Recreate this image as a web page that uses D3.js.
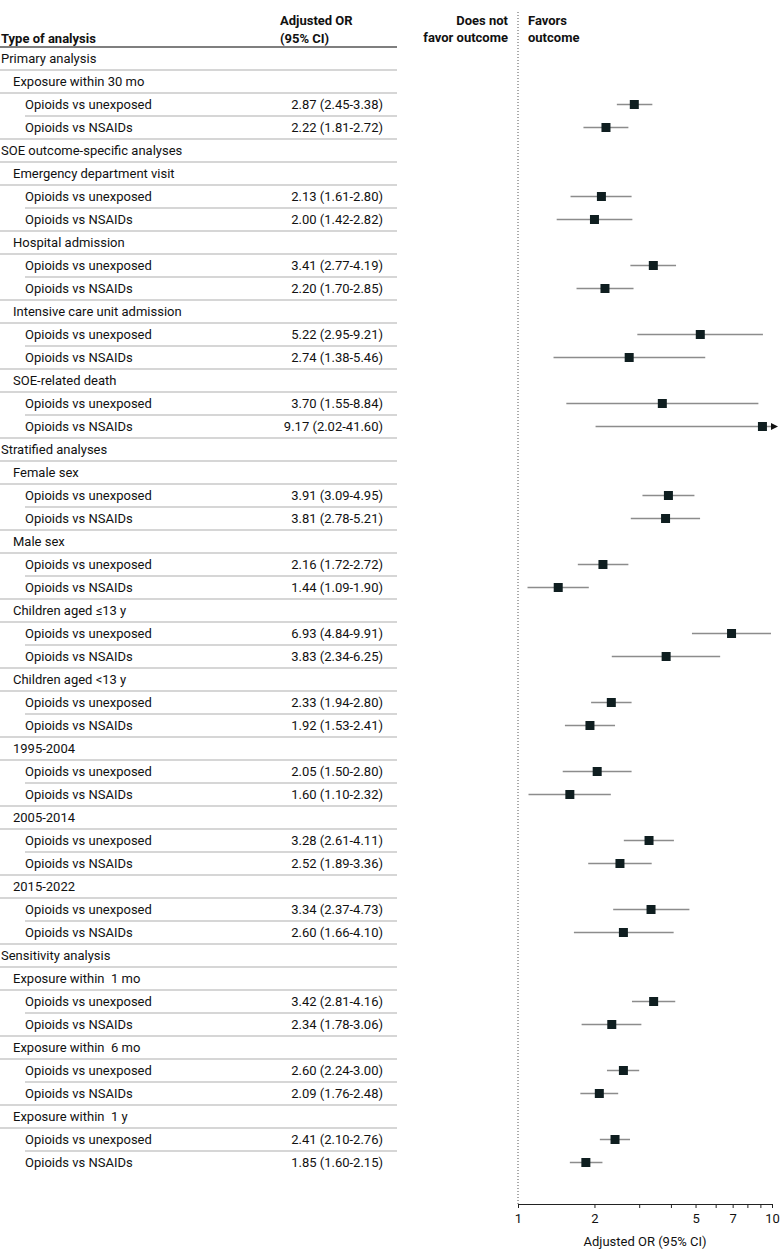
<!DOCTYPE html>
<html>
<head>
<meta charset="utf-8">
<script src="https://cdn.jsdelivr.net/npm/d3@7"></script>
<style>
  body { margin: 0; background: #fff; }
  svg text { font-family: Roboto, "Liberation Sans", sans-serif; fill: #111; }
</style>
</head>
<body>
<div id="chart"></div>
<script>
// Rows of the table, top to bottom. Level 0 = section, 1 = subgroup, 2 = comparison
const rowLabels = [
    'Primary analysis', 'Exposure within 30 mo', 'Opioids vs unexposed', 'Opioids vs NSAIDs',
    'SOE outcome-specific analyses', 'Emergency department visit', 'Opioids vs unexposed', 'Opioids vs NSAIDs',
    'Hospital admission', 'Opioids vs unexposed', 'Opioids vs NSAIDs',
    'Intensive care unit admission', 'Opioids vs unexposed', 'Opioids vs NSAIDs',
    'SOE-related death', 'Opioids vs unexposed', 'Opioids vs NSAIDs',
    'Stratified analyses', 'Female sex', 'Opioids vs unexposed', 'Opioids vs NSAIDs',
    'Male sex', 'Opioids vs unexposed', 'Opioids vs NSAIDs',
    'Children aged \u226413 y', 'Opioids vs unexposed', 'Opioids vs NSAIDs',
    'Children aged <13 y', 'Opioids vs unexposed', 'Opioids vs NSAIDs',
    '1995-2004', 'Opioids vs unexposed', 'Opioids vs NSAIDs',
    '2005-2014', 'Opioids vs unexposed', 'Opioids vs NSAIDs',
    '2015-2022', 'Opioids vs unexposed', 'Opioids vs NSAIDs',
    'Sensitivity analysis', 'Exposure within  1 mo', 'Opioids vs unexposed', 'Opioids vs NSAIDs',
    'Exposure within  6 mo', 'Opioids vs unexposed', 'Opioids vs NSAIDs',
    'Exposure within  1 y', 'Opioids vs unexposed', 'Opioids vs NSAIDs',
];
const rowLevels = [
    0, 1, 2, 2,
    0, 1, 2, 2,
    1, 2, 2,
    1, 2, 2,
    1, 2, 2,
    0, 1, 2, 2,
    1, 2, 2,
    1, 2, 2,
    1, 2, 2,
    1, 2, 2,
    1, 2, 2,
    1, 2, 2,
    0, 1, 2, 2,
    1, 2, 2,
    1, 2, 2,
];
const orValues = [
    null, null, 2.87, 2.22,
    null, null, 2.13, 2.00,
    null, 3.41, 2.20,
    null, 5.22, 2.74,
    null, 3.70, 9.17,
    null, null, 3.91, 3.81,
    null, 2.16, 1.44,
    null, 6.93, 3.83,
    null, 2.33, 1.92,
    null, 2.05, 1.60,
    null, 3.28, 2.52,
    null, 3.34, 2.60,
    null, null, 3.42, 2.34,
    null, 2.60, 2.09,
    null, 2.41, 1.85,
];
const ciLower = [
    null, null, 2.45, 1.81,
    null, null, 1.61, 1.42,
    null, 2.77, 1.70,
    null, 2.95, 1.38,
    null, 1.55, 2.02,
    null, null, 3.09, 2.78,
    null, 1.72, 1.09,
    null, 4.84, 2.34,
    null, 1.94, 1.53,
    null, 1.50, 1.10,
    null, 2.61, 1.89,
    null, 2.37, 1.66,
    null, null, 2.81, 1.78,
    null, 2.24, 1.76,
    null, 2.10, 1.60,
];
const ciUpper = [
    null, null, 3.38, 2.72,
    null, null, 2.80, 2.82,
    null, 4.19, 2.85,
    null, 9.21, 5.46,
    null, 8.84, 41.60,
    null, null, 4.95, 5.21,
    null, 2.72, 1.90,
    null, 9.91, 6.25,
    null, 2.80, 2.41,
    null, 2.80, 2.32,
    null, 4.11, 3.36,
    null, 4.73, 4.10,
    null, null, 4.16, 3.06,
    null, 3.00, 2.48,
    null, 2.76, 2.15,
];
const axisTicks = [1, 2, 3, 4, 5, 6, 7, 8, 9, 10];
const axisTickLabels = ['1', '2', '', '', '5', '', '7', '', '', '10'];

const width = 780;
const height = 1259;
const rowStart = 58.5;
const rowStep = 23;
const tableRight = 397;
const indent = [1, 13, 25];
const axisY = 1204;

const x = d3.scaleLog().domain([1, 10]).range([518, 772]);
const rowY = (i) => rowStart + i * rowStep;
const fmt = d3.format('.2f');

const svg = d3.select('#chart')
    .append('svg')
        .attr('width', width)
        .attr('height', height);

// header
const header = svg.append('g')
    .attr('font-size', '13px')
    .attr('font-weight', 'bold');
header.append('text').attr('x', 1).attr('y', 38).attr('dy', '0.35em').text('Type of analysis');
header.append('text').attr('x', 280).attr('y', 20).attr('dy', '0.35em').text('Adjusted OR');
header.append('text').attr('x', 280).attr('y', 38).attr('dy', '0.35em').text('(95% CI)');
header.append('text').attr('x', 508).attr('y', 20).attr('dy', '0.35em').attr('text-anchor', 'end').text('Does not');
header.append('text').attr('x', 508).attr('y', 37).attr('dy', '0.35em').attr('text-anchor', 'end').text('favor outcome');
header.append('text').attr('x', 528).attr('y', 20).attr('dy', '0.35em').text('Favors');
header.append('text').attr('x', 528).attr('y', 37).attr('dy', '0.35em').text('outcome');

svg.append('line')
    .attr('x1', 0).attr('x2', tableRight)
    .attr('y1', 47).attr('y2', 47)
    .attr('stroke', '#555').attr('stroke-width', 1.5);

// row separators
const rows = rowLabels.map((label, i) => ({
    label, i,
    level: rowLevels[i],
    or: orValues[i], lo: ciLower[i], hi: ciUpper[i],
}));

svg.append('g')
    .selectAll('line')
    .data(rows.slice(0, -1))
    .join('line')
        .attr('x1', d => (d.level === 2 && rowLevels[d.i + 1] === 2) ? 25 : 0)
        .attr('x2', tableRight)
        .attr('y1', d => rowY(d.i) + rowStep / 2)
        .attr('y2', d => rowY(d.i) + rowStep / 2)
        .attr('stroke', '#c9c9c9')
        .attr('stroke-width', 1.3);

// labels
svg.append('g')
    .attr('font-size', '13px')
    .selectAll('text')
    .data(rows)
    .join('text')
        .attr('x', d => indent[d.level])
        .attr('y', d => rowY(d.i))
        .attr('dy', '0.35em')
        .style('white-space', 'pre')
        .text(d => d.label);

const estimates = rows.filter(d => d.or !== null);

svg.append('g')
    .attr('font-size', '13px')
    .selectAll('text')
    .data(estimates)
    .join('text')
        .attr('x', 383)
        .attr('y', d => rowY(d.i))
        .attr('dy', '0.35em')
        .attr('text-anchor', 'end')
        .text(d => `${fmt(d.or)} (${fmt(d.lo)}-${fmt(d.hi)})`);

// null line
svg.append('line')
    .attr('x1', x(1)).attr('x2', x(1))
    .attr('y1', 12).attr('y2', axisY)
    .attr('stroke', '#555')
    .attr('stroke-width', 1)
    .attr('stroke-dasharray', '1,2');

// CI lines, clipped at the axis end
const xMax = x.domain()[1];
svg.append('g')
    .selectAll('line')
    .data(estimates)
    .join('line')
        .attr('x1', d => x(Math.max(d.lo, x.domain()[0])))
        .attr('x2', d => x(Math.min(d.hi, xMax)))
        .attr('y1', d => rowY(d.i))
        .attr('y2', d => rowY(d.i))
        .attr('stroke', '#8c8c8c')
        .attr('stroke-width', 1.5);

svg.append('g')
    .selectAll('path')
    .data(estimates.filter(d => d.hi > xMax))
    .join('path')
        .attr('d', d => {
            const ax = x(xMax), ay = rowY(d.i);
            return `M${ax - 1},${ay - 3.5}L${ax + 6},${ay}L${ax - 1},${ay + 3.5}Z`;
        })
        .attr('fill', '#111');

const box = 9;
svg.append('g')
    .selectAll('rect')
    .data(estimates)
    .join('rect')
        .attr('x', d => x(d.or) - box / 2)
        .attr('y', d => rowY(d.i) - box / 2)
        .attr('width', box)
        .attr('height', box)
        .attr('fill', '#0f1e20');

// axis
const axis = svg.append('g')
    .attr('transform', `translate(0, ${axisY})`)
    .call(d3.axisBottom(x)
        .tickValues(axisTicks)
        .tickFormat((d, i) => axisTickLabels[i])
        .tickSize(4)
        .tickSizeOuter(0));
axis.select('.domain').attr('stroke', '#222');
axis.selectAll('.tick line').attr('stroke', '#222');
axis.selectAll('.tick text')
    .attr('font-size', '13px')
    .attr('font-family', 'Roboto, sans-serif')
    .attr('fill', '#111')
    .attr('dy', '0.9em');

svg.append('text')
    .attr('x', (x(1) + x(10)) / 2)
    .attr('y', 1241)
    .attr('dy', '0.35em')
    .attr('text-anchor', 'middle')
    .attr('font-size', '13px')
    .text('Adjusted OR (95% CI)');
</script>
</body>
</html>
